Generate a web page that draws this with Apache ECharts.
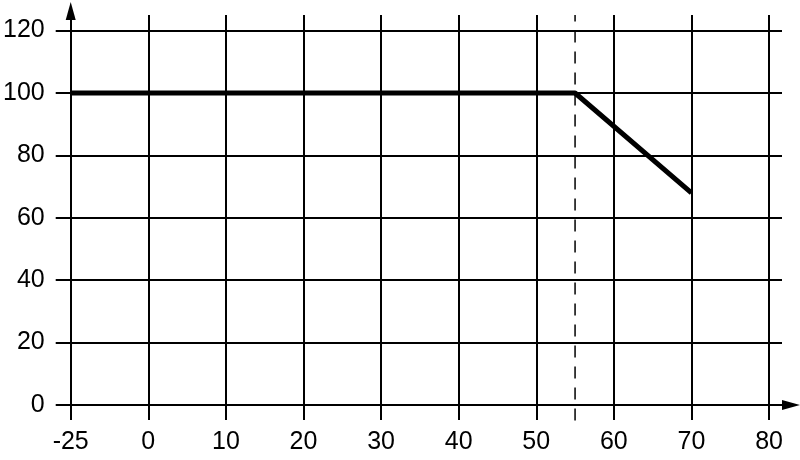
<!DOCTYPE html>
<html><head><meta charset="utf-8">
<script src="https://cdn.jsdelivr.net/npm/echarts@6/dist/echarts.min.js"></script>
<style>html,body{margin:0;padding:0;background:#fff}#c{width:800px;height:460px}</style>
</head><body><div id="c"></div>
<script>
// Data (real x values; the axis is broken between -25 and 0)
const xValues = [-25, 55, 70];
const yValues = [100, 100, 68];
const xTicks = [-25, 0, 10, 20, 30, 40, 50, 60, 70, 80];
const yTicks = [0, 20, 40, 60, 80, 100, 120];
const markX = 55;
const markYRange = [-5, 125];

// broken-axis mapping: the -25..0 stretch is drawn as wide as 10 units
const toAxis = v => v < 0 ? v * 0.4 : v;
const fromAxis = v => v < 0 ? Math.round(v / 0.4) : v;

const font = 'Liberation Sans, Arial, sans-serif';
const chart = echarts.init(document.getElementById('c'), null, {renderer: 'canvas'});
chart.setOption({
  animation: false,
  backgroundColor: '#fff',
  grid: {left: 69, right: 18, top: 15, bottom: 55, containLabel: false},
  xAxis: {
    type: 'value', min: -10, max: 81.67,
    axisLine: {show: true, onZero: false, lineStyle: {color: '#000', width: 2}, symbol: ['none', 'triangle'], symbolSize: [10, 18], symbolOffset: [0, 9]},
    axisTick: {show: true, length: 15, inside: false, lineStyle: {color: '#000', width: 2}, customValues: xTicks.map(toAxis)},
    axisLabel: {show: true, margin: 25, color: '#000', fontSize: 25, fontFamily: font, customValues: xTicks.map(toAxis), formatter: v => String(fromAxis(v))},
    splitLine: {show: true, lineStyle: {color: '#000', width: 2}}
  },
  yAxis: {
    type: 'value', min: 0, max: 125,
    axisLine: {show: true, onZero: false, lineStyle: {color: '#000', width: 2}, symbol: ['none', 'triangle'], symbolSize: [10, 18], symbolOffset: [0, 4]},
    axisTick: {show: true, length: 15, inside: false, lineStyle: {color: '#000', width: 2}, customValues: yTicks},
    axisLabel: {show: true, margin: 26, color: '#000', fontSize: 25, fontFamily: font, customValues: yTicks},
    splitLine: {show: true, lineStyle: {color: '#000', width: 2}}
  },
  series: [
    {
      type: 'line', symbol: 'none', clip: false, z: 3,
      lineStyle: {color: '#000', width: 5},
      data: xValues.map((x, i) => [toAxis(x), yValues[i]])
    },
    {
      type: 'line', symbol: 'none', clip: false, z: 2,
      lineStyle: {color: '#000', width: 1.5, type: [12, 9]},
      data: markYRange.map(y => [toAxis(markX), y])
    }
  ]
});
</script></body></html>
